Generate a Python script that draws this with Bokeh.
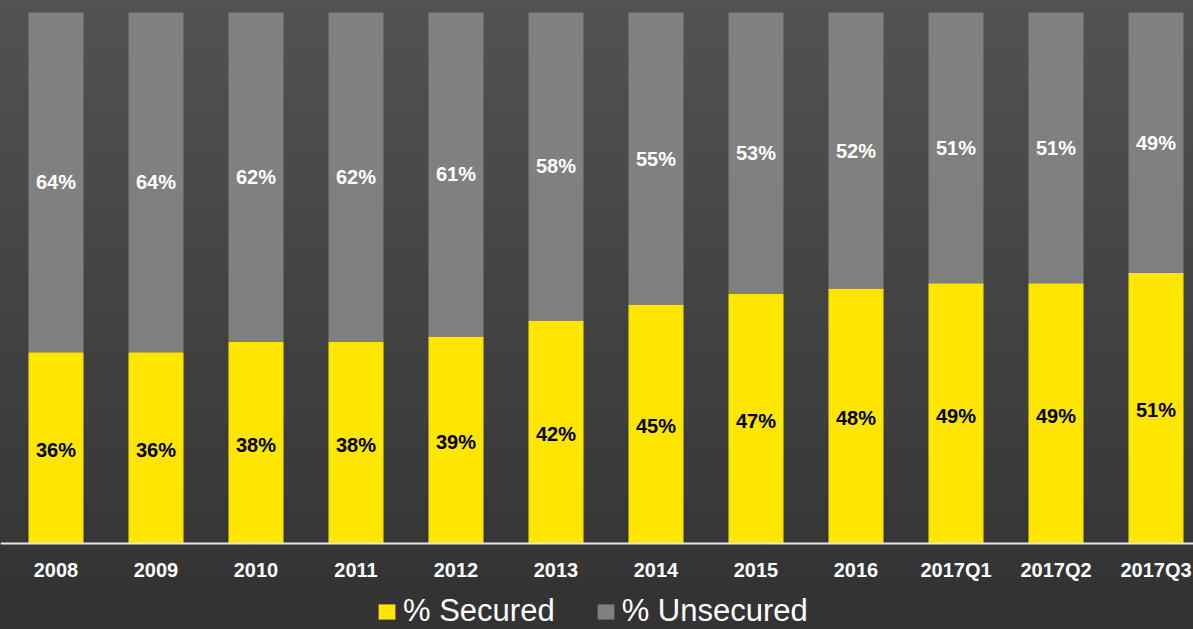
from bokeh.plotting import figure
from bokeh.models import (ColumnDataSource, Range1d, FixedTicker, Legend, LegendItem,
                          LabelSet, LinearAxis)
from bokeh.core.properties import value
from bokeh.embed import file_html
from bokeh.resources import INLINE

categories = ["2008", "2009", "2010", "2011", "2012", "2013", "2014", "2015", "2016",
              "2017Q1", "2017Q2", "2017Q3"]
secured = [36, 36, 38, 38, 39, 42, 45, 47, 48, 49, 49, 51]
unsecured = [64, 64, 62, 62, 61, 58, 55, 53, 52, 51, 51, 49]

YELLOW = "#FFE600"
GREY = "#808080"
FONT = "Liberation Sans"

xs = list(range(len(categories)))
source = ColumnDataSource(dict(
    x=xs,
    secured=secured,
    unsecured=unsecured,
    total=[s + u for s, u in zip(secured, unsecured)],
    sec_mid=[s / 2 - 0.4 for s in secured],
    uns_mid=[s + u / 2 for s, u in zip(secured, unsecured)],
    sec_lbl=[f"{s}%" for s in secured],
    uns_lbl=[f"{u}%" for u in unsecured],
))

p = figure(width=1193, height=629, output_backend="svg", toolbar_location=None,
           x_range=Range1d(-0.555, 11.375), y_range=Range1d(-16.196, 102.26),
           x_axis_location=None, y_axis_location=None,
           min_border_left=0, min_border_right=0, min_border_top=0, min_border_bottom=0)
p.background_fill_alpha = 0
p.border_fill_alpha = 0
p.outline_line_color = None
p.styles = {"background": "linear-gradient(to bottom, #525252 0%, #373737 86%, #333333 93%, #333333 100%)"}

r_sec = p.vbar(x="x", bottom=0, top="secured", width=0.55, source=source,
               fill_color=YELLOW, line_color=None)
r_uns = p.vbar(x="x", bottom="secured", top="total", width=0.55, source=source,
               fill_color=GREY, line_color=None)

p.add_layout(LabelSet(x="x", y="sec_mid", text="sec_lbl", source=source,
                      text_align="center", text_baseline="middle",
                      text_font=value(FONT), text_font_size=value("20px"),
                      text_font_style="bold", text_color="black"))
p.add_layout(LabelSet(x="x", y="uns_mid", text="uns_lbl", source=source,
                      text_align="center", text_baseline="middle",
                      text_font=value(FONT), text_font_size=value("20px"),
                      text_font_style="bold", text_color="white"))

p.grid.visible = False

xaxis = LinearAxis(fixed_location=0)
xaxis.ticker = FixedTicker(ticks=xs)
xaxis.major_label_overrides = {i: c for i, c in enumerate(categories)}
xaxis.major_tick_line_color = None
xaxis.minor_tick_line_color = None
xaxis.axis_line_color = "#E6E6E6"
xaxis.axis_line_width = 2
xaxis.major_label_standoff = 10
xaxis.major_label_text_font = FONT
xaxis.major_label_text_font_size = "20px"
xaxis.major_label_text_font_style = "bold"
xaxis.major_label_text_color = "white"
p.add_layout(xaxis, "below")

legend = Legend(items=[LegendItem(label="% Secured", renderers=[r_sec]),
                       LegendItem(label="% Unsecured", renderers=[r_uns])],
                orientation="horizontal", location=(376, 0),
                label_text_font=FONT, label_text_font_size="31px",
                label_text_color="white", glyph_width=21, glyph_height=19,
                label_standoff=6, spacing=40, padding=0, margin=0,
                background_fill_alpha=0, border_line_alpha=0)
p.add_layout(legend, "center")

open("out.html", "w").write(file_html(p, INLINE))
